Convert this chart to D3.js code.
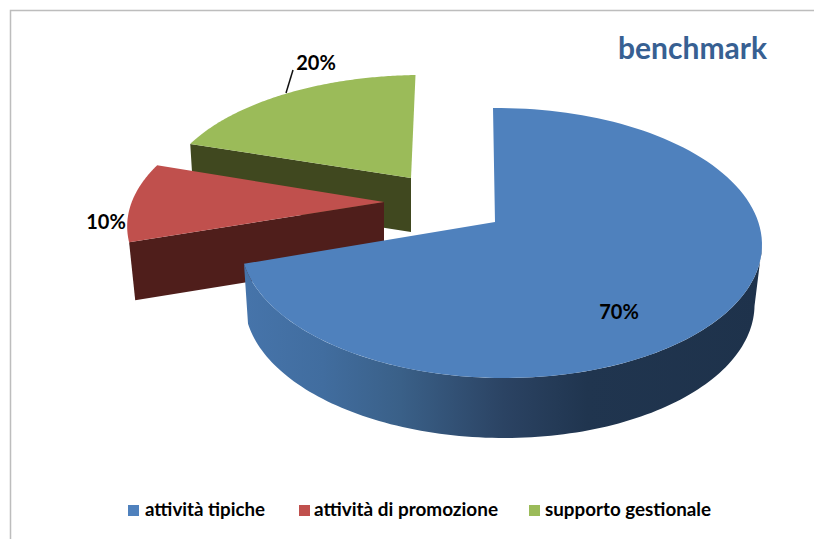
<!DOCTYPE html>
<html><head><meta charset="utf-8">
<script src="https://cdn.jsdelivr.net/npm/d3@7"></script>
<style>html,body{margin:0;padding:0;background:#fff}svg{display:block}text{font-family:Lato,"Open Sans",sans-serif;font-weight:700}</style>
</head><body><svg id="c" width="814" height="539"></svg>
<script>
const categories = ["attività tipiche","attività di promozione","supporto gestionale"];
const values = [70,10,20];
const percentLabels = ["70%","10%","20%"];
const colors = ["#4f81bd","#c0504d","#9bbb59"];
const wallColors = ["#1f344e","#4f1e1b","#40481f"];
const titleText = "benchmark";

// one projection per exploded slice (perspective view of a unit disc)
const views = [
  {cx:495,cy:222,rx:257.5,ry:131.7,s:2.3,m:.022,depth:60,shrinkL:.984,shrinkR:.972},
  {cx:384,cy:202,rx:260.3,ry:128,s:-9.2,m:.032,depth:58,shrinkL:.976,shrinkR:.976},
  {cx:411,cy:178,rx:252,ry:119,s:-5.2,m:.032,depth:54,shrinkL:.985,shrinkR:.985}
];
const K=.1556;
function project(view,a,r=1,low=false){
  const u=r*Math.sin(a), v=-r*Math.cos(a), w=1-K*v-view.m*u;
  let x=(view.rx*u+view.s*v)/w, y=view.ry*v/w;
  if(low){x*=x<0?view.shrinkL:view.shrinkR; y+=view.depth;}
  return [view.cx+x,view.cy+y];
}
const svg=d3.select("#c");
const defs=svg.append("defs");
const grad=defs.append("linearGradient").attr("id","blueWall")
  .attr("gradientUnits","userSpaceOnUse").attr("x1",245).attr("x2",763).attr("y1",0).attr("y2",0);
[[0,"#4674aa"],[.15,"#416d9f"],[.3,"#3a6088"],[.5,"#2b4363"],[.66,"#20354f"],[1,"#1e324b"]]
  .forEach(d=>grad.append("stop").attr("offset",d[0]).attr("stop-color",d[1]));

const line=d3.line();
const pie=d3.pie().sort(null).value(d=>d)(values);
const steps=a=>d3.range(0,121).map(i=>a[0]+(a[1]-a[0])*i/120);

// frame
svg.append("path").attr("d","M10.5,539V10.5H814").attr("fill","none").attr("stroke","#bdbdbd").attr("stroke-width",1.5);

function wedge(i,wallFill){
  const p=pie[i], view=views[i];
  if(i===0){
    const a=steps([d3.max([p.startAngle,100*Math.PI/180]),p.endAngle]);
    const pts=a.map(t=>project(view,t)).concat(a.slice().reverse().map(t=>project(view,t,1,true)));
    svg.append("path").attr("d",line(pts)+"Z").attr("fill",wallFill);
  } else {
    const e=p.startAngle;
    const pts=[project(view,e),project(view,e,0),project(view,e,0,true),project(view,e,1,true)];
    svg.append("path").attr("d",line(pts)+"Z").attr("fill",wallFill);
  }
  const top=[project(view,0,0)].concat(steps([p.startAngle,p.endAngle]).map(t=>project(view,t)));
  svg.append("path").attr("d",line(top)+"Z").attr("fill",colors[i]);
}
wedge(2,wallColors[2]);
wedge(1,wallColors[1]);
wedge(0,"url(#blueWall)");

// data labels
const labelPos=[[619,311],[106,221],[316,62]];
percentLabels.forEach((t,i)=>svg.append("text").attr("x",labelPos[i][0]).attr("y",labelPos[i][1])
  .attr("text-anchor","middle").attr("dominant-baseline","central").attr("font-size",20).attr("fill","#000").text(t));
svg.append("line").attr("x1",293).attr("y1",70).attr("x2",286).attr("y2",93).attr("stroke","#111").attr("stroke-width",1.5);

// title
svg.append("text").attr("x",692.5).attr("y",59).attr("text-anchor","middle").attr("font-size",30).attr("fill","#376092").text(titleText);

// legend
const legendX=[128,299,529], legendTextX=[145,314,545], legendW=[120,184,166];
categories.forEach((c,i)=>{
  svg.append("rect").attr("x",legendX[i]).attr("y",505).attr("width",11).attr("height",11).attr("fill",colors[i]);
  svg.append("text").attr("x",legendTextX[i]).attr("y",516).attr("font-size",19).attr("fill","#000")
    .attr("textLength",legendW[i]).attr("lengthAdjust","spacingAndGlyphs").text(c);
});
</script></body></html>
